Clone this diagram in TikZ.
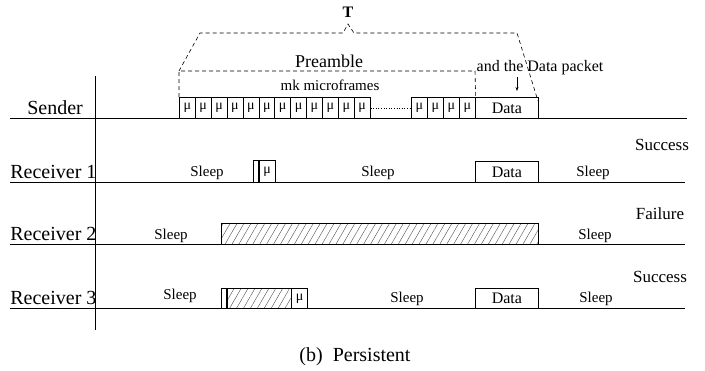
\documentclass[tikz,border=0pt]{standalone}
\usepackage{fontspec}
\setmainfont{Liberation Serif}
\usetikzlibrary{patterns.meta,arrows.meta}
\begin{document}
\begin{tikzpicture}[x=1pt,y=-1pt,line width=0.7pt,
  fr/.style={draw,inner sep=0pt,anchor=north west,minimum width=15.9pt,minimum height=21pt,font=\fontsize{14}{14}\selectfont},
  databox/.style={draw,inner sep=0pt,anchor=north west,minimum width=63pt,font=\fontsize{16}{16}\selectfont},
  lbl/.style={anchor=base west,inner sep=0pt,font=\fontsize{20}{20}\selectfont},
  sl/.style={anchor=base,inner sep=0pt,font=\fontsize{15}{15}\selectfont},
  res/.style={anchor=base,inner sep=0pt,font=\fontsize{17}{17}\selectfont},
  dsh/.style={dashed,dash pattern=on 4pt off 3pt,line width=0.6pt},
  hatch/.style={pattern={Lines[angle=60,distance=6pt,line width=0.4pt]},pattern color=black!70}]
\useasboundingbox (0,0) rectangle (705,370);

% axis
\coordinate (ax0) at (95,76);
\coordinate (ax1) at (95,330);
\draw (ax0) -- (ax1);

% labels
\node[lbl] (lsend) at (27,114) {Sender};
\node[lbl] (lr1) at (10,178) {Receiver 1};
\node[lbl] (lr2) at (10,240) {Receiver 2};
\node[lbl] (lr3) at (10,304) {Receiver 3};

% timelines
\coordinate (s0) at (10,118); \coordinate (s1) at (687,118);
\coordinate (a0) at (10,182); \coordinate (a1) at (685,182);
\coordinate (b0) at (10,244); \coordinate (b1) at (685,244);
\coordinate (c0) at (10,308); \coordinate (c1) at (685,308);
\draw (s0) -- (s1);
\draw (a0) -- (a1);
\draw (b0) -- (b1);
\draw (c0) -- (c1);

% sender microframes
\foreach \i in {0,...,11} \node[fr] (m\i) at ({179+\i*15.9},97) {μ};
\foreach \i in {0,...,3} \node[fr,minimum width=16pt] (n\i) at ({411+\i*16},97) {μ};
\draw[dotted,line width=0.6pt] (m11.east) -- (n0.west);
\node[databox,minimum height=21pt] (sd) at (475,97) {Data};

% preamble bracket
\coordinate (p0) at (179,71);
\coordinate (p1) at (475,71);
\draw[dsh] (m0.north west) -- (p0) -- (p1) -- (n3.north east);
\node[anchor=base,inner sep=0pt,font=\fontsize{18}{18}\selectfont] (pre) at (329,67) {Preamble};
\node[anchor=base,inner sep=0pt,font=\fontsize{15}{15}\selectfont] (mk) at (330,90) {mk microframes};

% T bracket
\coordinate (t0) at (200,33);
\coordinate (t1) at (343,33);
\coordinate (tp) at (348,24);
\coordinate (t2) at (354,33);
\coordinate (t3) at (517,33);
\coordinate (t4) at (538,101);
\draw[dsh] (p0) -- (t0) -- (t1) -- (tp) -- (t2) -- (t3) -- (t4);
\node[anchor=base,inner sep=0pt,font=\bfseries\fontsize{16}{16}\selectfont] (T) at (348,17) {T};

% and the data packet
\node[anchor=base,inner sep=0pt,font=\fontsize{16}{16}\selectfont] (adp) at (540,71) {and the Data packet};
\coordinate (ar0) at (517,77);
\coordinate (ar1) at (517,91);
\draw[-{Stealth[length=4pt,width=3pt]},line width=0.6pt] (ar0) -- (ar1);

% Receiver 1
\node[sl] (r1s1) at (207,176) {Sleep};
\node[draw,inner sep=0pt,anchor=north west,minimum width=5pt,minimum height=22pt] (r1n) at (253,160) {};
\node[fr,minimum width=16pt,minimum height=22pt] (r1m) at (r1n.north east) {μ};
\node[sl] (r1s2) at (378,176) {Sleep};
\node[databox,minimum height=21pt] (r1d) at (475,161) {Data};
\node[sl] (r1s3) at (593,176) {Sleep};
\node[res] (ok1) at (662,150) {Success};

% Receiver 2
\node[sl] (r2s1) at (171,239) {Sleep};
\node[draw,hatch,inner sep=0pt,anchor=north west,minimum width=317pt,minimum height=21pt] (r2h) at (221,223) {};
\node[sl] (r2s2) at (595,239) {Sleep};
\node[res] (fail) at (660,219) {Failure};

% Receiver 3
\node[sl] (r3s1) at (180,299) {Sleep};
\node[draw,inner sep=0pt,anchor=north west,minimum width=5pt,minimum height=20pt] (r3n) at (221,288) {};
\node[draw,hatch,inner sep=0pt,anchor=north west,minimum width=64pt,minimum height=20pt] (r3h) at (r3n.north east) {};
\node[fr,minimum width=16pt,minimum height=20pt] (r3m) at (r3h.north east) {μ};
\node[sl] (r3s2) at (407,302) {Sleep};
\node[databox,minimum height=20pt] (r3d) at (475,288) {Data};
\node[sl] (r3s3) at (596,302) {Sleep};
\node[res] (ok3) at (660,282) {Success};

% caption
\node[anchor=base,inner sep=0pt,font=\fontsize{20}{20}\selectfont] (cap) at (355,361) {(b)\hspace{10pt}Persistent};
\end{tikzpicture}
\end{document}
